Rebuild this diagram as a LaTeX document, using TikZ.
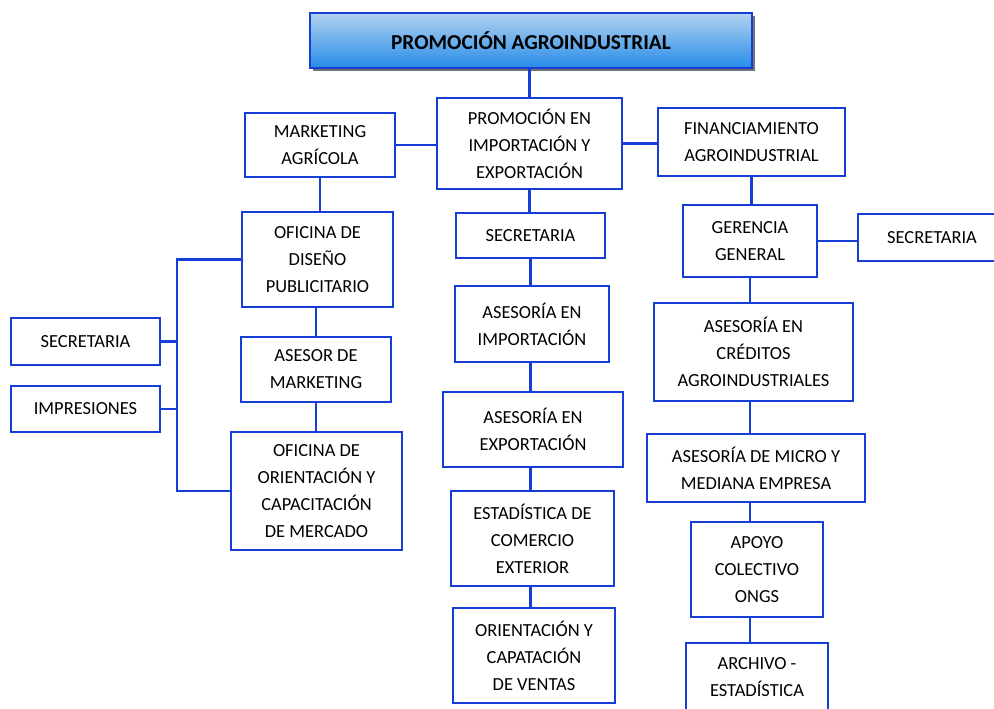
\documentclass[tikz,border=0pt]{standalone}
\usepackage{fontspec}
\setmainfont{Carlito}
\usetikzlibrary{shadows}
\definecolor{orgblue}{RGB}{22,62,215}
\definecolor{titletop}{RGB}{178,210,240}
\definecolor{titlebot}{RGB}{38,140,232}

\begin{document}
\begin{tikzpicture}[x=0.02cm, y=-0.02cm, line width=1.1pt,
font=\fontsize{10.5}{15.3}\selectfont,
wh/.style 2 args={minimum width=#1*0.02cm, minimum height=#2*0.02cm},
unit/.style={draw=orgblue, fill=white, align=center, inner sep=0pt},
link/.style={draw=orgblue, line width=1.5pt}]
    \useasboundingbox (0,0) rectangle (994,709);
    \node[unit, wh={442}{55}, top color=titletop, bottom color=titlebot, line width=1.6pt,
        drop shadow={shadow xshift=1.6pt, shadow yshift=-1.6pt, fill=black, opacity=0.55},
        font=\bfseries\fontsize{12.1}{15}\selectfont] (title) at (531,40.5) {PROMOCIÓN AGROINDUSTRIAL};

    \node[unit, wh={150}{64}] (mkt) at (320,145) {MARKETING\\AGRÍCOLA};
    \node[unit, wh={185}{91}] (prom) at (529.5,143.5) {PROMOCIÓN EN\\IMPORTACIÓN Y\\EXPORTACIÓN};
    \node[unit, wh={187}{68}] (fin) at (751.5,142) {FINANCIAMIENTO\\AGROINDUSTRIAL};

    \node[unit, wh={151}{95}] (diseno) at (317.5,259.5) {OFICINA DE\\DISEÑO\\PUBLICITARIO};
    \node[unit, wh={150}{65}] (asesor) at (316,369.5) {ASESOR DE\\MARKETING};
    \node[unit, wh={171}{118}] (orient) at (316.5,491) {OFICINA DE\\ORIENTACIÓN Y\\CAPACITACIÓN\\DE MERCADO};
    \node[unit, wh={149}{47}] (sec_l) at (85.5,341.5) {SECRETARIA};
    \node[unit, wh={149}{46}] (impr) at (85.5,409) {IMPRESIONES};
    \coordinate (brace) at (177,0);

    \node[unit, wh={149}{45}] (sec_c) at (530.5,235.5) {SECRETARIA};
    \node[unit, wh={154}{76}] (as_imp) at (532,324) {ASESORÍA EN\\IMPORTACIÓN};
    \node[unit, wh={180}{75}] (as_exp) at (533,429.5) {ASESORÍA EN\\EXPORTACIÓN};
    \node[unit, wh={163}{95}] (estad) at (532.5,538.5) {ESTADÍSTICA DE\\COMERCIO\\EXTERIOR};
    \node[unit, wh={162}{95}] (ventas) at (534,655.5) {ORIENTACIÓN Y\\CAPATACIÓN\\DE VENTAS};

    \node[unit, wh={134}{72}] (geren) at (750,241) {GERENCIA\\GENERAL};
    \node[unit, wh={148}{47}] (sec_r) at (932,237.5) {SECRETARIA};
    \node[unit, wh={199}{98}] (cred) at (753.5,352) {ASESORÍA EN\\CRÉDITOS\\AGROINDUSTRIALES};
    \node[unit, wh={218}{68}] (micro) at (756,468) {ASESORÍA DE MICRO Y\\MEDIANA EMPRESA};
    \node[unit, wh={132}{95}] (apoyo) at (757,569.5) {APOYO\\COLECTIVO\\ONGS};
    \node[unit, wh={142}{68}] (archivo) at (757,677) {ARCHIVO -\\ESTADÍSTICA};

    \path[link]
        (prom.north) -- (prom.north |- title.south)
        (mkt.east) -- (mkt.east -| prom.west)
        (prom.east) -- (prom.east -| fin.west)
        (mkt.south) -- (mkt.south |- diseno.north)
        (asesor.north) -- (asesor.north |- diseno.south)
        (asesor.south) -- (asesor.south |- orient.north)
        (diseno.west) -- (diseno.west -| brace) |- (orient.west)
        (sec_l.east) -- (sec_l.east -| brace)
        (impr.east) -- (impr.east -| brace)
        (prom.south) -- (prom.south |- sec_c.north)
        (sec_c.south) -- (sec_c.south |- as_imp.north)
        (sec_c.south |- as_imp.south) -- (sec_c.south |- as_exp.north)
        (sec_c.south |- as_exp.south) -- (sec_c.south |- estad.north)
        (sec_c.south |- estad.south) -- (sec_c.south |- ventas.north)
        (fin.south) -- (fin.south |- geren.north)
        (geren.east) -- (geren.east -| sec_r.west)
        (geren.south) -- (geren.south |- cred.north)
        (geren.south |- cred.south) -- (geren.south |- micro.north)
        (geren.south |- micro.south) -- (geren.south |- apoyo.north)
        (geren.south |- apoyo.south) -- (geren.south |- archivo.north);
\end{tikzpicture}
\end{document}
